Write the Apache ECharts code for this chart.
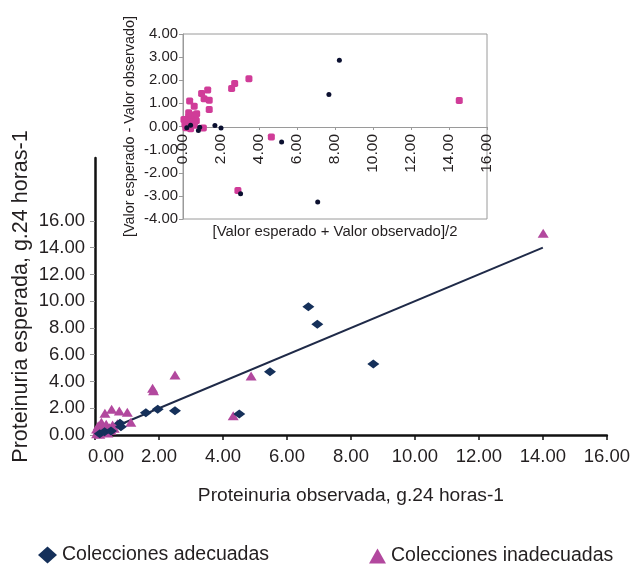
<!DOCTYPE html>
<html>
<head>
<meta charset="utf-8">
<script src="https://cdn.jsdelivr.net/npm/echarts@6/dist/echarts.min.js"></script>
<style>html,body{margin:0;padding:0;background:#fff}#c{width:633px;height:565px}</style>
</head>
<body>
<div id="c"></div>
<script>
// ---- Data ----
// Main chart: [observed, expected]
var adecuadas = [
  [0.15, 0.10], [0.30, 0.25], [0.50, 0.30], [0.81, 0.62], [0.78, 0.87],
  [1.59, 1.67], [1.96, 1.92], [2.50, 1.82], [4.51, 1.57], [5.47, 4.73],
  [6.67, 9.59], [6.95, 8.28], [8.70, 5.31]
];
var inadecuadas = [
  [0.05, 0.10], [0.10, 0.35], [0.15, 0.05], [0.20, 0.60], [0.25, 0.20],
  [0.30, 0.45], [0.35, 0.80], [0.40, 0.15], [0.45, 0.55], [0.50, 0.35],
  [0.55, 0.75], [0.60, 0.50], [0.70, 0.85], [0.10, 0.70], [0.20, 0.95],
  [0.05, 0.45], [0.31, 1.62], [0.52, 1.92], [0.76, 1.79], [1.01, 1.70],
  [1.12, 0.95], [1.80, 3.49], [1.83, 3.31], [2.50, 4.49], [4.32, 1.44],
  [4.88, 4.41], [14.01, 15.08]
];
var trendLine = [[0, 0], [14, 14]];
// Inset (Bland-Altman): [mean, difference]
var insetAdecuadas = [
  [0.20, -0.05], [0.40, 0.05], [0.88, -0.03], [0.81, -0.17], [1.68, 0.04],
  [2.00, -0.07], [3.03, -2.91], [5.19, -0.67], [7.09, -3.27], [7.68, 1.38],
  [8.23, 2.87]
];
var insetInadecuadas = [
  [0.10, 0.10], [0.15, -0.05], [0.20, 0.25], [0.25, 0.05], [0.30, 0.40],
  [0.35, 0.15], [0.40, -0.10], [0.45, 0.30], [0.50, 0.50], [0.55, 0.20],
  [0.60, 0.05], [0.65, 0.45], [0.30, 0.60], [0.05, 0.30], [0.70, 0.25],
  [0.35, 1.10], [0.59, 0.88], [0.72, 0.55], [1.07, -0.06], [0.98, 1.43],
  [1.11, 1.20], [1.30, 1.58], [1.38, 1.13], [1.38, 0.74], [2.56, 1.64],
  [2.72, 1.86], [3.47, 2.07], [4.65, -0.45], [2.89, -2.77], [14.54, 1.12]
];
var mainYTicks = [0, 2, 4, 6, 8, 10, 12, 14, 16];
var mainXTicks = [0, 2, 4, 6, 8, 10, 12, 14, 16];
var insetYTicks = [-4, -3, -2, -1, 0, 1, 2, 3, 4];
var insetXTicks = [0, 2, 4, 6, 8, 10, 12, 14, 16];
var legendNames = ['Colecciones adecuadas', 'Colecciones inadecuadas'];

// ---- Styles ----
var FONT = "'Liberation Sans', Arial, Helvetica, sans-serif";
var TXT = '#231f20';
var NAVY = '#15305a';
var MAGENTA = '#b2489e';
var fmt = function (v) { return Number(v).toFixed(2); };
var fmtMainX = function (v) { return v === 0 ? '{z|' + fmt(v) + '}' : fmt(v); };

var chart = echarts.init(document.getElementById('c'), null, {renderer: 'canvas'});
chart.setOption({
  animation: false,
  backgroundColor: '#ffffff',
  textStyle: {fontFamily: FONT, color: TXT},
  legend: [
    {
      data: [{name: legendNames[0], icon: 'diamond'}],
      left: 33, top: 540, itemWidth: 19, itemHeight: 17, selectedMode: false,
      textStyle: {fontFamily: FONT, fontSize: 19.5, color: TXT}
    },
    {
      data: [{name: legendNames[1], icon: 'triangle'}],
      left: 364, top: 541, itemWidth: 17, itemHeight: 15, selectedMode: false,
      textStyle: {fontFamily: FONT, fontSize: 19.5, color: TXT}
    }
  ],
  grid: [
    {left: 95, right: 26, top: 158, bottom: 130, show: false},
    {left: 183, right: 146, top: 34, bottom: 346, show: true,
     backgroundColor: '#ffffff', borderColor: '#9a9a9a', borderWidth: 1, z: 5}
  ],
  xAxis: [
    {
      gridIndex: 0, type: 'value', min: 0, max: 16, interval: 2,
      name: 'Proteinuria observada, g.24 horas-1', nameLocation: 'middle', nameGap: 51,
      nameMoveOverlap: false,
      nameTextStyle: {fontFamily: FONT, fontSize: 19.2, color: TXT},
      axisLine: {show: true, onZero: false, lineStyle: {color: '#111', width: 2.5}},
      axisTick: {show: true, length: 5, lineStyle: {color: '#111', width: 1.5}, customValues: mainXTicks},
      axisLabel: {show: true, margin: 12, fontSize: 18.5, color: TXT, fontFamily: FONT,
                  formatter: fmtMainX, customValues: mainXTicks, showMinLabel: true, hideOverlap: false,
                  rich: {z: {fontSize: 18.5, fontFamily: FONT, color: TXT, padding: [0, 0, 0, 22]}}},
      splitLine: {show: false}
    },
    {
      gridIndex: 1, type: 'value', min: 0, max: 16, interval: 2,
      position: 'bottom', offset: -92,
      name: '[Valor esperado + Valor observado]/2', nameLocation: 'middle', nameGap: 97,
      nameMoveOverlap: false,
      nameTextStyle: {fontFamily: FONT, fontSize: 14.9, color: TXT},
      axisLine: {show: true, onZero: false, lineStyle: {color: '#9a9a9a', width: 1}},
      axisTick: {show: true, length: 3, lineStyle: {color: '#9a9a9a'}, customValues: insetXTicks},
      axisLabel: {show: true, rotate: 90, margin: 7, fontSize: 15.5, color: TXT, fontFamily: FONT,
                  formatter: fmt, customValues: insetXTicks},
      splitLine: {show: false}, z: 6
    }
  ],
  yAxis: [
    {
      gridIndex: 0, type: 'value', min: 0, max: 20.7,
      name: 'Proteinuria esperada, g.24 horas-1', nameLocation: 'middle', nameGap: 63,
      nameMoveOverlap: false,
      nameTextStyle: {fontFamily: FONT, fontSize: 21.5, color: TXT},
      axisLine: {show: true, onZero: false, lineStyle: {color: '#111', width: 2.5}},
      axisTick: {show: true, length: 5, lineStyle: {color: '#999'}, customValues: mainYTicks},
      axisLabel: {show: true, margin: 10, fontSize: 18.5, color: TXT, fontFamily: FONT,
                  formatter: fmt, customValues: mainYTicks},
      splitLine: {show: false}
    },
    {
      gridIndex: 1, type: 'value', min: -4, max: 4, interval: 1,
      name: '[Valor esperado - Valor observado]', nameLocation: 'middle', nameGap: 46,
      nameMoveOverlap: false,
      nameTextStyle: {fontFamily: FONT, fontSize: 14.4, color: TXT},
      axisLine: {show: true, onZero: false, lineStyle: {color: '#9a9a9a', width: 1}},
      axisTick: {show: true, length: 4, lineStyle: {color: '#9a9a9a'}, customValues: insetYTicks},
      axisLabel: {show: true, margin: 5, fontSize: 14.9, color: TXT, fontFamily: FONT,
                  formatter: fmt, customValues: insetYTicks},
      splitLine: {show: false}, z: 6
    }
  ],
  series: [
    {
      name: 'Tendencia', type: 'line', xAxisIndex: 0, yAxisIndex: 0,
      data: trendLine, showSymbol: false, symbol: 'none', silent: true,
      lineStyle: {color: '#1f2a48', width: 2}, z: 1
    },
    {
      name: legendNames[0], type: 'scatter', xAxisIndex: 0, yAxisIndex: 0,
      data: adecuadas, symbol: 'diamond', symbolSize: [12, 9],
      itemStyle: {color: NAVY, opacity: 1}, z: 3
    },
    {
      name: legendNames[1], type: 'scatter', xAxisIndex: 0, yAxisIndex: 0,
      data: inadecuadas, symbol: 'triangle', symbolSize: [11, 9],
      itemStyle: {color: MAGENTA, opacity: 1}, z: 2
    },
    {
      name: 'Diferencia adecuadas', type: 'scatter', xAxisIndex: 1, yAxisIndex: 1,
      data: insetAdecuadas, symbol: 'circle', symbolSize: 5,
      itemStyle: {color: '#0b1030', opacity: 1}, z: 8
    },
    {
      name: 'Diferencia inadecuadas', type: 'scatter', xAxisIndex: 1, yAxisIndex: 1,
      data: insetInadecuadas, symbol: 'roundRect', symbolSize: 7,
      itemStyle: {color: '#d03c98', opacity: 1}, z: 7
    }
  ]
});
</script>
</body>
</html>
